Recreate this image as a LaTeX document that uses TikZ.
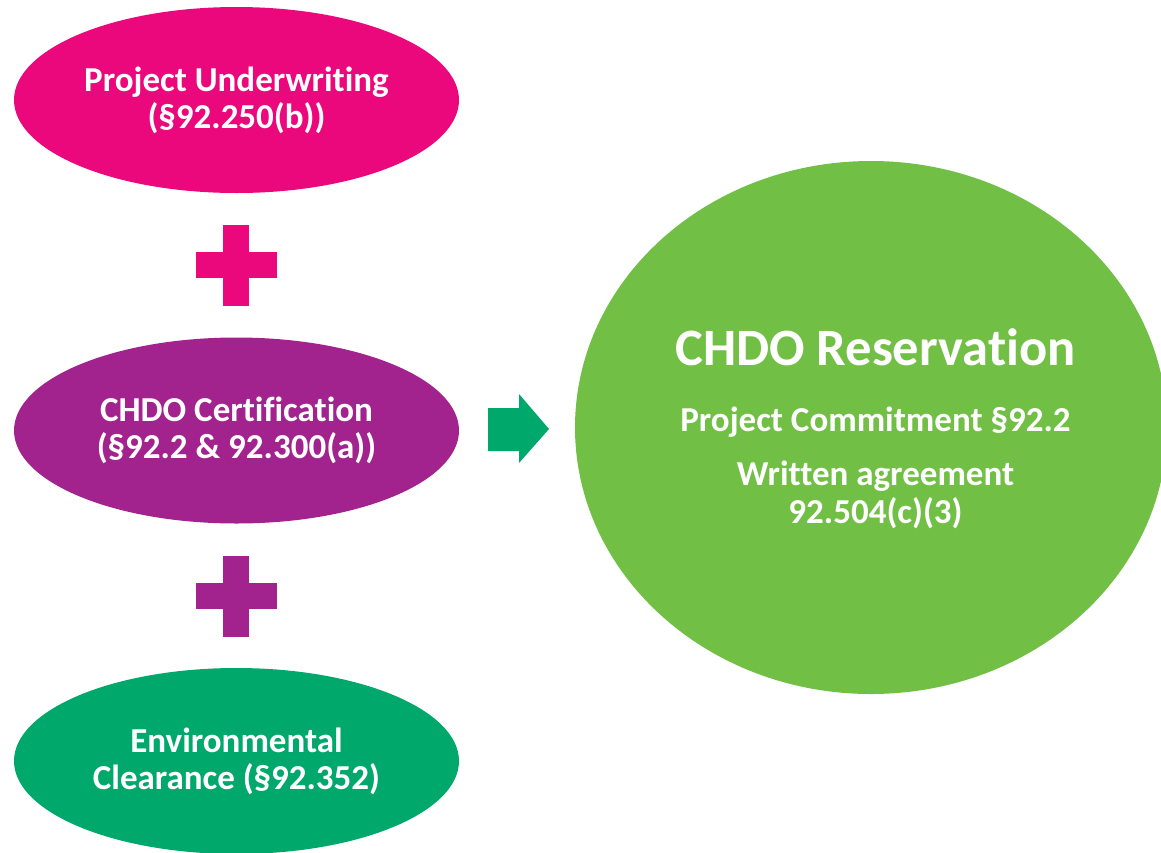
\documentclass[tikz,border=0pt]{standalone}
\usepackage{fontspec}
\setmainfont{Carlito}[Ligatures={NoCommon,NoContextual}]
\usetikzlibrary{shapes.geometric}
\definecolor{pinkfill}{HTML}{EA087C}
\definecolor{plumfill}{HTML}{A2238E}
\definecolor{jadefill}{HTML}{00A86B}
\definecolor{leaffill}{HTML}{72BF46}
\begin{document}
\begin{tikzpicture}[x=1pt,y=-1pt,
  bubble/.style={ellipse, minimum width=445pt, minimum height=186pt, inner sep=0pt,
    text=white, align=center, font=\bfseries\fontsize{35}{37}\selectfont},
  bigtitle/.style={text=white, inner sep=0pt, anchor=base, font=\bfseries\fontsize{52.5}{57}\selectfont},
  subline/.style={text=white, inner sep=0pt, anchor=base, font=\bfseries\fontsize{35}{37}\selectfont}]
\useasboundingbox (0,0) rectangle (1161,852);
\clip (0,0) rectangle (1161,852);

% three requirements on the left
\node[bubble, fill=pinkfill] (under) at (236.5,100) {Project Underwriting\\(§92.250(b))};
\node[bubble, fill=plumfill] (cert) at (236.5,430.5) {CHDO Certification\\(§92.2 \& 92.300(a))};
\node[bubble, fill=jadefill] (env) at (236.5,761) {Environmental\\Clearance (§92.352)};

% plus signs between them
\fill[pinkfill] (223,225) rectangle (249,306);
\fill[pinkfill] (196,252) rectangle (277,278);
\fill[plumfill] (223,556) rectangle (249,637);
\fill[plumfill] (196,583) rectangle (277,609);

% block arrow to the result
\fill[jadefill] (488,408) -- (519,408) -- (519,394) -- (549,429)
  -- (519,463) -- (519,451) -- (488,451) -- cycle;

% result
\node[ellipse, fill=leaffill, minimum width=592pt, minimum height=533pt, inner sep=0pt]
  (resv) at (871,427.5) {};
\node[bigtitle] (title) at (875.5,365) {CHDO Reservation};
\node[subline] (commit) at (875.5,431.7) {Project Commitment §92.2};
\node[subline] (agree) at (875.5,485) {Written agreement};
\node[subline] (agreeref) at (875.5,523.3) {92.504(c)(3)};
\end{tikzpicture}
\end{document}
